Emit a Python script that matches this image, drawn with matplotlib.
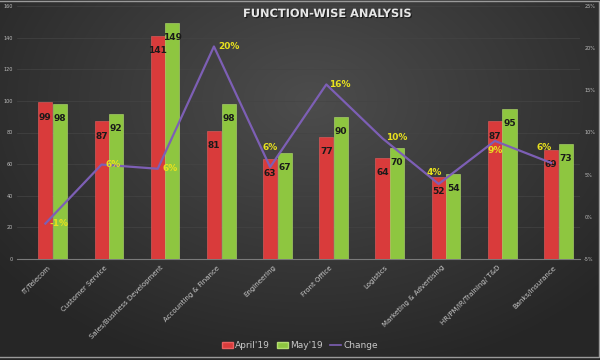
import numpy as np
import matplotlib
matplotlib.use("Agg")
from matplotlib import pyplot as plt
from matplotlib.lines import Line2D
from matplotlib.patches import Patch
from matplotlib.transforms import ScaledTranslation
import matplotlib.patheffects as pe

categories = ["IT/Telecom", "Customer Service", "Sales/Business Development",
              "Accounting & Finance", "Engineering", "Front Office", "Logistics",
              "Marketing & Advertising", "HR/PM/IR/Training/ T&D", "Banks/Insurance"]
april = [99, 87, 141, 81, 63, 77, 64, 52, 87, 69]
may = [98, 92, 149, 98, 67, 90, 70, 54, 95, 73]
change = [-1, 6, 6, 20, 6, 16, 10, 4, 9, 6]
change_pos = [-0.8, 6.2, 5.7, 20.2, 5.9, 15.7, 9.3, 3.9, 9.0, 6.4]
# label offsets (points) for the % labels
pct_off = [(10, 0), (8, 0), (9, 0), (11, 0), (0, 14), (9.5, 0), (10, 1), (-3, 8), (0, -7), (-5, 11)]

fig = plt.figure(figsize=(6, 3.6), dpi=100)

# dark radial background
bg = fig.add_axes([0, 0, 1, 1], zorder=-10)
yy, xx = np.mgrid[0:360, 0:600]
r = np.sqrt(((xx - 310) / 420.0) ** 2 + ((yy - 100) / 300.0) ** 2)
shade = np.clip(0.30 - 0.16 * r, 0.15, 0.30)
bg.imshow(np.dstack([shade] * 3), extent=[0, 600, 360, 0], aspect="auto")
bg.plot([0, 599, 599, 0], [1, 1, 357, 357], color="#9a9a9a", lw=1)
bg.set_xlim(0, 600)
bg.set_ylim(360, 0)
bg.axis("off")

ax = fig.add_axes([17 / 600, 1 - 259 / 360, 563 / 600, 253 / 360])
ax.patch.set_alpha(0)
x = np.arange(len(categories))
w = 0.25
b1 = ax.bar(x - w / 2 - 0.005, april, w, color="#d93b3b", edgecolor="#e86060", lw=0.4, zorder=3)
b2 = ax.bar(x + w / 2 + 0.005, may, w, color="#8ec640", edgecolor="#b4dd70", lw=0.4, zorder=3)
for rect, v in zip(list(b1) + list(b2), april + may):
    ax.annotate(str(v), (rect.get_x() + rect.get_width() / 2, v), xytext=(0, -10.5),
                textcoords="offset points", ha="center", va="center",
                fontsize=6.5, fontweight="bold", color="#1a1a1a", zorder=6)

ax.set_xlim(-0.635, 9.385)
ax.set_ylim(0, 160)
ax.set_yticks(range(0, 161, 20))
ax.tick_params(axis="y", length=0, labelsize=3.5, labelcolor="#bdbdbd", pad=3)
ax.set_xticks(x)
ax.set_xticklabels(categories, rotation=45, ha="right", rotation_mode="anchor",
                   fontsize=5, color="#c8c8c8")
ax.tick_params(axis="x", length=0, pad=4)
shift = ScaledTranslation(-5 / 100, 0, fig.dpi_scale_trans)
for t in ax.get_xticklabels():
    t.set_transform(t.get_transform() + shift)
ax.grid(axis="y", color="#444444", lw=0.5, zorder=0)
for s in ["top", "right", "left"]:
    ax.spines[s].set_visible(False)
ax.spines["bottom"].set_color("#7a7a7a")
ax.spines["bottom"].set_linewidth(0.8)

ax2 = ax.twinx()
ax2.set_ylim(-5, 25)
ax2.set_yticks(range(-5, 26, 5))
ax2.set_yticklabels([f"{t}%" for t in range(-5, 26, 5)])
ax2.tick_params(axis="y", length=0, labelsize=3.5, labelcolor="#bdbdbd", pad=3)
for s in ax2.spines.values():
    s.set_visible(False)
ax2.plot(x - w / 2 - 0.005, change_pos, color="#7d5fb5", lw=1.6, zorder=5)
for xi, yv, lab, off in zip(x - w / 2 - 0.005, change_pos, change, pct_off):
    ax2.annotate(f"{lab}%", (xi, yv), xytext=off, textcoords="offset points",
                 ha="center", va="center", fontsize=6.5, fontweight="bold",
                 color="#e8e11e", zorder=7)

fig.text(327 / 600, 1 - 14 / 360, "FUNCTION-WISE ANALYSIS", ha="center", va="center",
         fontsize=8.2, fontweight="bold", color="#e6e6e6",
         path_effects=[pe.withSimplePatchShadow(offset=(0.8, -0.8), shadow_rgbFace="#111111", alpha=0.8)])

handles = [Patch(facecolor="#d93b3b", edgecolor="#e86060"),
           Patch(facecolor="#8ec640", edgecolor="#b4dd70"),
           Line2D([0], [0], color="#7d5fb5", lw=1.2)]
leg = fig.legend(handles, ["April'19", "May'19", "Change"], loc="center",
                 bbox_to_anchor=(0.5, 1 - 346 / 360), ncol=3, frameon=False,
                 fontsize=6.5, labelcolor="#c8c8c8", handlelength=1.2, handleheight=0.6,
                 columnspacing=0.8, handletextpad=0.25)

fig.savefig("out.png", dpi=100)
